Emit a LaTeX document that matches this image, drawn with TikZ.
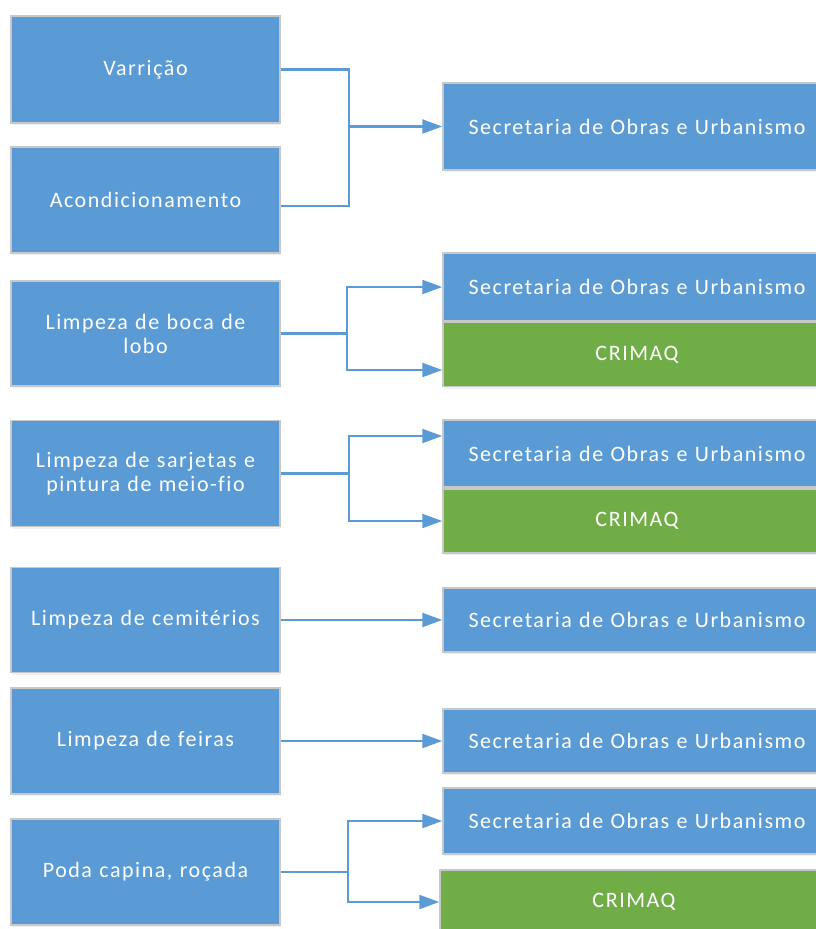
\documentclass[tikz,border=0pt]{standalone}
\usepackage{fontspec}
\setmainfont{Carlito}[LetterSpace=7, Ligatures={NoCommon}]
\usetikzlibrary{shadows,arrows.meta}
\definecolor{boxblue}{HTML}{5B9BD5}
\definecolor{boxgreen}{HTML}{70AD47}
\definecolor{edgegray}{HTML}{C8C8C8}
\tikzset{
  base/.style={draw=edgegray, line width=1.5pt, text=white, inner sep=0pt,
    align=center, font=\fontsize{22}{24}\selectfont,
    drop shadow={opacity=0.12, shadow xshift=1pt, shadow yshift=-2pt}},
  leftbox/.style={base, fill=boxblue, minimum width=269pt, text width=264pt},
  secbox/.style={base, fill=boxblue, minimum width=388pt, text width=385pt},
  crimbox/.style={base, fill=boxgreen, minimum width=388pt, text width=385pt},
  conn/.style={draw=boxblue, line width=2.2pt},
  arr/.style={conn, -{Triangle[length=20pt, width=14pt]}}
}
\begin{document}
\begin{tikzpicture}[x=1pt, y=-1pt]
\useasboundingbox (0,0) rectangle (816,929);
% left boxes
\node[leftbox, minimum height=107pt] (var) at (145.5,69.5) {Varrição};
\node[leftbox, minimum height=106pt] (aco) at (145.5,200) {Acondicionamento};
\node[leftbox, minimum height=105pt] (bl) at (145.5,333.5) {Limpeza de boca de\\lobo};
\node[leftbox, minimum height=106pt] (sar) at (145.5,473.5) {Limpeza de sarjetas e\\pintura de meio-fio};
\node[leftbox, minimum height=105pt] (cem) at (145.5,620) {Limpeza de cemitérios};
\node[leftbox, minimum height=106pt] (fei) at (145.5,741) {Limpeza de feiras};
\node[leftbox, minimum height=106pt] (pod) at (145.5,872) {Poda capina, roçada};
% right boxes
\node[secbox, minimum height=87pt] (s1) at (637,126.5) {Secretaria de Obras e Urbanismo};
\node[secbox, minimum height=68pt] (s2) at (637,287) {Secretaria de Obras e Urbanismo};
\node[crimbox, minimum height=64pt] (c2) at (637,354.5) {CRIMAQ};
\node[secbox, minimum height=67pt] (s3) at (637,453.5) {Secretaria de Obras e Urbanismo};
\node[crimbox, minimum height=64pt] (c3) at (637,521) {CRIMAQ};
\node[secbox, minimum height=64pt] (s4) at (637,620) {Secretaria de Obras e Urbanismo};
\node[secbox, minimum height=64pt] (s5) at (637,741) {Secretaria de Obras e Urbanismo};
\node[secbox, minimum height=66pt] (s6) at (637,821) {Secretaria de Obras e Urbanismo};
\node[crimbox, minimum height=64pt] (c6) at (634,902) {CRIMAQ};
% connectors
\coordinate (j1) at (349,126.5);
\draw[conn] (var.east) -| (j1);
\draw[conn] ([yshift=-6pt]aco.east) -| (j1);
\draw[arr] (j1) -- (s1.west);
\coordinate (j2) at (347,333.5);
\draw[conn] (bl.east) -- (j2);
\draw[arr] (j2) |- (s2.west);
\draw[arr] (j2) |- ([yshift=-15.5pt]c2.west);
\coordinate (j3) at (349,473.5);
\draw[conn] (sar.east) -- (j3);
\draw[arr] (j3) |- ([yshift=17.5pt]s3.west);
\draw[arr] (j3) |- (c3.west);
\draw[arr] (cem.east) -- (s4.west);
\draw[arr] (fei.east) -- (s5.west);
\coordinate (j6) at (348,872);
\draw[conn] (pod.east) -- (j6);
\draw[arr] (j6) |- (s6.west);
\draw[arr] (j6) |- (c6.west);
\end{tikzpicture}
\end{document}
